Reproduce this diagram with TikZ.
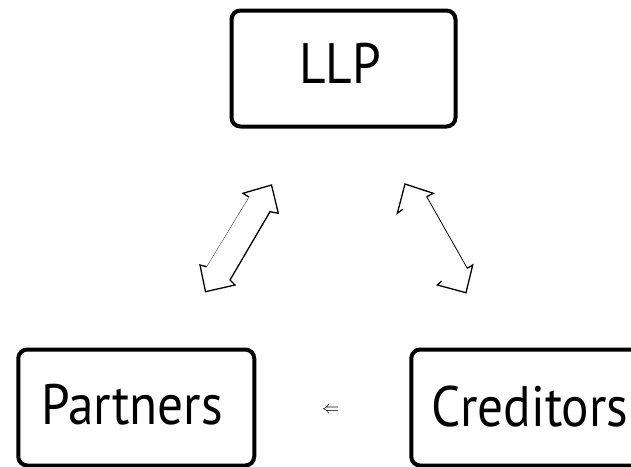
\documentclass[tikz,border=0pt]{standalone}
\usepackage{fontspec}
\newfontfamily\lblfont[FakeStretch=0.9]{PT Sans}
\begin{document}
\begin{tikzpicture}[x=1pt,y=-1pt,
  entity/.style={draw=black,line width=4pt,rounded corners=9pt,fill=white,
    minimum width=#1,minimum height=116pt,inner sep=0pt},
  entity/.default=236pt,
  caption/.style={font=\lblfont\fontsize{57}{57}\selectfont,inner sep=0pt,anchor=base},
  heavy/.style={line width=1.3pt,line join=miter},
  faint/.style={line width=0.45pt,draw=black!70}]
  \useasboundingbox (0,0) rectangle (631,466);
  \clip (0,0) rectangle (631,466);

  % the three parties
  \node[entity=224pt] (llp) at (343.5,68.5) {};
  \node[entity] (partners) at (136.25,407.5) {};
  \node[entity] (creditors) at (529.25,407.5) {};

  \node[caption] (llptext) at (340,83) {LLP};
  \node[caption] (partnerstext) at (132,424) {Partners};
  \node[caption] (creditorstext) at (530,426) {Creditors};

  % double block arrow between the partners and the LLP
  \draw[heavy] (249,197) -- (243,193.3) -- (271.5,185) -- (278.3,213.3)
    -- (270,211.7) -- (230,280) -- (235,285) -- (205.5,291.7)
    -- (200,265) -- (206.7,266.7);
  \draw[faint] (206.7,266.7) -- (249,197);

  % double block arrow between the LLP and the creditors
  \draw[heavy] (402.7,209.3) -- (397.3,213.3) -- (405,184) -- (433.3,193.3)
    -- (426.7,196.7);
  \draw[line width=0.8pt] (426.7,196.7) -- (467.3,268.3);
  \draw[heavy] (467.3,268.3) -- (472.7,265) -- (466,292.7) -- (437.3,285)
    -- (441.7,281);

  % small arrow between partners and creditors
  \node[inner sep=0pt,font=\fontsize{16}{16}\selectfont] (mid) at (330.5,410.5) {$\Leftarrow$};
\end{tikzpicture}
\end{document}
